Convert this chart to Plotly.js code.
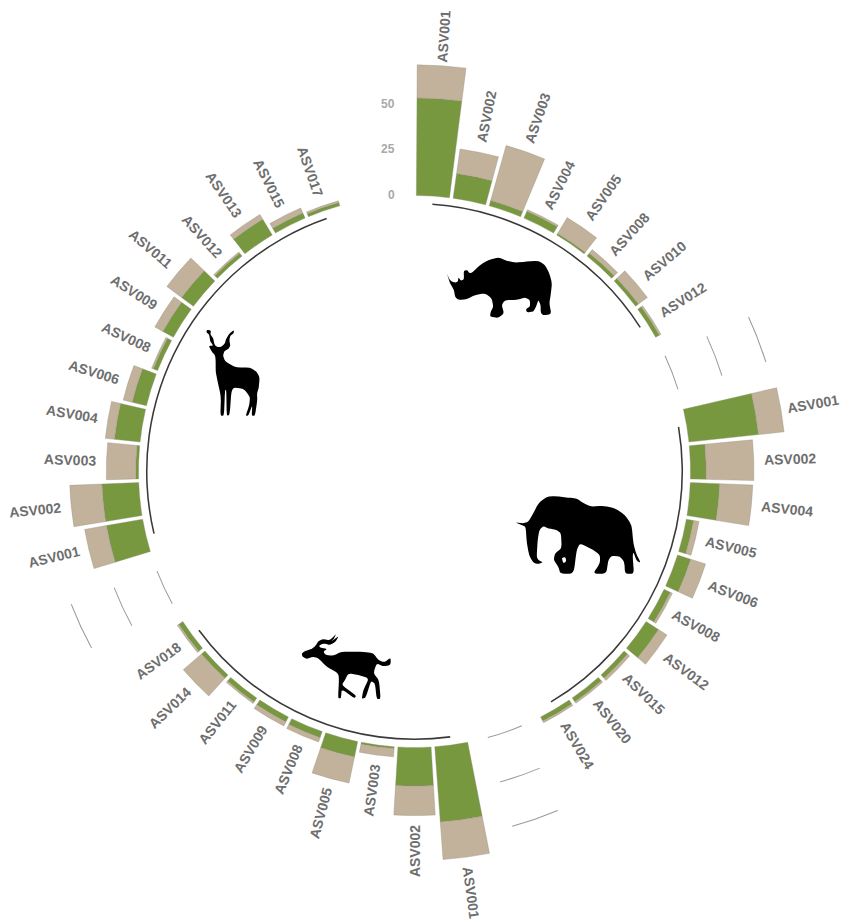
<!DOCTYPE html>
<html><head><meta charset="utf-8">
<script src="https://cdn.plot.ly/plotly-3.0.1.min.js"></script>
<style>html,body{margin:0;padding:0;background:#fff}</style></head>
<body><div id="chart" style="width:841px;height:921px"></div>
<script>
// position on the ring (47 slots), ASV label, abundance in each of the two groups
const slots = [0,1,2,3,4,5,6,7, 10,11,12,13,14,15,16,17,18,19, 22,23,24,25,26,27,28,29,30, 33,34,35,36,37,38,39,40,41,42,43,44];
const labels = ["ASV001","ASV002","ASV003","ASV004","ASV005","ASV008","ASV010","ASV012",
 "ASV001","ASV002","ASV004","ASV005","ASV006","ASV008","ASV012","ASV015","ASV020","ASV024",
 "ASV001","ASV002","ASV003","ASV005","ASV008","ASV009","ASV011","ASV014","ASV018",
 "ASV001","ASV002","ASV003","ASV004","ASV006","ASV008","ASV009","ASV011","ASV012","ASV013","ASV015","ASV017"];
const green = [53,13.5,3,4,1,2,2,2.3, 38,8.5,16,4,7.5,3.7,8,2.5,2.5,2.5, 41,21,1,8.5,3.5,3,2.6,2.5,2.6, 20,20,1.5,14,8,2.5,6.5,8,2,10,3,1.8];
const tan = [18,13.5,31,1,10,2.5,6,1, 14,26,18,3,8.5,1.3,5.5,1.5,1,1, 20.5,16,4.5,14.5,2.5,2.5,1,13,1, 12,17.5,16,5,5,1,5,10,0.8,3,3,1];
const gapSlots = [8.5,20.5,31.5];
const gridValues = [0,25,50];
const sections = [[0,7],[10,19],[22,30],[33,44]];

const SLOT = 360/47, CX = 414.5, CY = 471.5, R = 412, R0 = 276, PX = 1.84;
const W = 841, H = 921;
const ang = s => (s+0.5)*SLOT;
const px = (x,y) => (x/W).toFixed(5)+','+(1-y/H).toFixed(5);

function smooth(pts, ox, oy){
  const p = pts.map(a=>[ox+a[0]/3, oy+a[1]/3]), n=p.length, k=0.3;
  const lerp=(a,b,t)=>[a[0]+(b[0]-a[0])*t,a[1]+(b[1]-a[1])*t];
  let d='';
  for(let i=0;i<n;i++){
    const q=p[i], s=lerp(q,p[(i+n-1)%n],k), e=lerp(q,p[(i+1)%n],k);
    d+=(i?' L':'M')+px(s[0],s[1])+' Q'+px(q[0],q[1])+' '+px(e[0],e[1]);
  }
  return d+' Z';
}
const rhino=[[50,98],[58,118],[66,125],[76,128],[84,124],[85,112],[93,122],[102,118],[101,92],[112,90],[118,100],[127,97],[150,75],[175,60],[205,52],[230,62],[255,68],[290,65],[325,62],[345,75],[358,100],[366,130],[362,165],[358,190],[364,222],[340,226],[332,218],[332,195],[325,180],[318,200],[310,215],[290,217],[288,207],[300,200],[300,180],[285,172],[260,180],[225,180],[215,195],[222,220],[205,234],[180,230],[182,215],[190,200],[185,175],[165,160],[135,165],[110,178],[85,180],[75,170],[72,150],[60,130]];
const elephant=[[31,112],[55,115],[70,110],[85,85],[100,55],[125,35],[150,33],[190,38],[215,40],[235,55],[260,65],[295,62],[330,70],[360,90],[380,120],[385,175],[393,205],[407,233],[395,228],[385,200],[383,215],[387,266],[360,266],[358,230],[345,215],[320,212],[310,225],[304,266],[264,266],[285,235],[285,210],[265,195],[225,175],[215,195],[206,266],[166,266],[160,245],[146,225],[150,205],[170,190],[168,145],[155,135],[130,130],[115,123],[103,135],[98,165],[95,215],[100,225],[114,232],[100,237],[85,234],[72,210],[65,170],[62,125],[50,120]];
const hole=[[170,219],[181,216],[184,229],[175,235]];
const antelope=[[20,85],[30,78],[50,72],[62,62],[70,48],[85,42],[105,46],[124,26],[116,42],[108,50],[131,33],[122,50],[105,60],[85,55],[72,62],[75,68],[97,72],[85,80],[92,90],[115,92],[140,80],[175,80],[205,80],[235,85],[250,105],[268,112],[287,98],[287,120],[265,124],[245,115],[235,145],[252,165],[257,222],[245,222],[240,175],[228,168],[212,218],[200,222],[205,195],[222,160],[190,150],[160,145],[150,165],[140,180],[184,212],[178,220],[140,192],[138,220],[129,220],[132,165],[130,145],[95,125],[70,100],[55,95],[35,102],[22,94]];
const kudu=[[36,14],[48,17],[46,28],[55,40],[58,58],[66,66],[78,66],[90,55],[93,42],[103,26],[117,15],[116,25],[106,32],[103,45],[106,62],[100,72],[88,78],[84,92],[90,108],[108,120],[125,127],[165,128],[185,140],[194,158],[191,190],[186,205],[187,225],[180,272],[170,272],[172,240],[160,272],[152,272],[163,240],[165,215],[145,190],[110,188],[104,270],[95,272],[94,195],[90,195],[87,272],[76,272],[78,215],[68,170],[62,140],[62,105],[60,90],[50,80],[41,62],[55,62],[46,50],[44,38],[42,28],[34,22]];

const base = {type:'barpolar', hoverinfo:'skip', showlegend:false};
const theta = slots.map(ang);
const edge = {width:0.5, color:'rgba(140,140,120,0.7)'};
const data = [
 {...base, r:green, theta, width:6.9, base:0, marker:{color:'#78983f', line:edge}},
 {...base, r:tan, theta, width:6.9, base:green, marker:{color:'#c3b29b', line:edge}}
];
gridValues.forEach(v=>{
  data.push({...base, r:gapSlots.map(()=>0.55), theta:gapSlots.map(ang), width:7.5,
    base:gapSlots.map(()=>v-0.27), marker:{color:'#9a9a9a', line:{width:0}}});
});
data.push({...base,
  r:sections.map(()=>0.85),
  theta:sections.map(s=>ang((s[0]+s[1])/2)),
  width:sections.map(s=>(s[1]-s[0])*SLOT),
  base:sections.map(()=>-4.9),
  marker:{color:'#3a3a3a', line:{width:0}}});

const labelGap = labels.map((t,i)=> i===0 ? 29 : i===8 ? 32 : 36);
const annotations = labels.map((t,i)=>{
  const th = theta[i], rr = R0 + (green[i]+tan[i])*PX + labelGap[i], a = th*Math.PI/180;
  return {text:t, xref:'paper', yref:'paper', showarrow:false, xanchor:'center', yanchor:'middle',
    x:(CX+rr*Math.sin(a))/W, y:1-(CY-rr*Math.cos(a))/H,
    textangle: th<180 ? th-90 : th-270,
    font:{family:'Liberation Sans', size:14, color:'#6e6e6e', weight:700}};
});
gridValues.forEach(v=>annotations.push({text:String(v), xref:'paper', yref:'paper', showarrow:false,
  xanchor:'right', yanchor:'middle', x:397/W, y:1-(CY-R0-v*PX)/H,
  font:{family:'Liberation Sans', size:12, color:'#a9a9a9', weight:700}}));

const silh = (d,c)=>({type:'path', xref:'paper', yref:'paper', path:d, fillcolor:c||'#000', line:{width:0}, layer:'above'});
const shapes = [
  silh(smooth(rhino,430,240)), silh(smooth(elephant,505,485)), silh(smooth(hole,505,485),'#fff'),
  silh(smooth(antelope,295,625)), silh(smooth(kudu,195,325))
];

Plotly.newPlot('chart', data, {
  width:W, height:H, margin:{l:0,r:0,t:0,b:0}, paper_bgcolor:'#fff', showlegend:false,
  polar:{
    domain:{x:[(CX-R)/W,(CX+R)/W], y:[1-(CY+R)/H,1-(CY-R)/H]},
    bgcolor:'rgba(0,0,0,0)', barmode:'overlay', bargap:0,
    radialaxis:{visible:false, range:[-R0/PX,(R-R0)/PX]},
    angularaxis:{visible:false, direction:'clockwise', rotation:90}
  },
  annotations, shapes
}, {displayModeBar:false, staticPlot:true});
</script></body></html>
